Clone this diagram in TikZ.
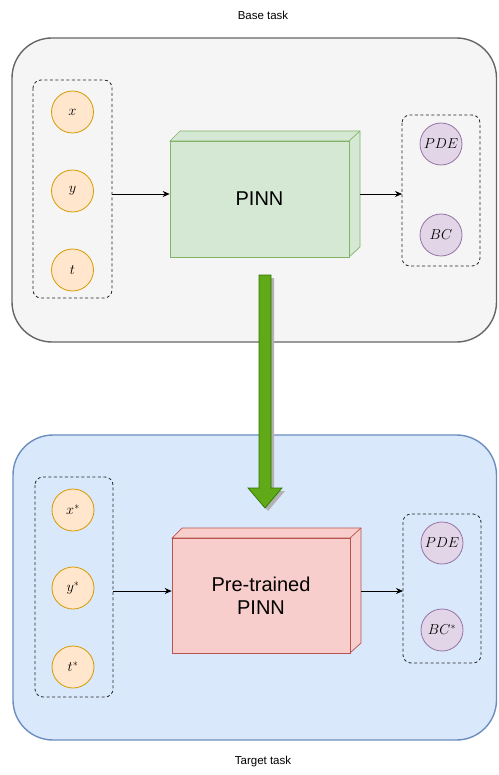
\documentclass[tikz,border=0pt]{standalone}
\usepackage{fontspec}
\setmainfont{Liberation Sans}
\usetikzlibrary{arrows.meta}
\begin{document}
\begin{tikzpicture}[x=1pt,y=-1pt,
  outerbox/.style={rounded corners=40pt,line width=1.4pt},
  dashbox/.style={draw=black!85,dash pattern=on 3pt off 2.5pt,rounded corners=8pt,line width=0.8pt},
  invar/.style={circle,draw=ofline,fill=offill,line width=0.8pt,minimum size=42pt,inner sep=0pt,font=\fontsize{14.5}{16}\selectfont},
  outvar/.style={circle,draw=pline,fill=pfill,line width=0.8pt,minimum size=42pt,inner sep=0pt,font=\fontsize{14.5}{16}\selectfont},
  conn/.style={-{Stealth[length=7pt,width=6pt]},line width=0.7pt},
  caption/.style={font=\fontsize{11.5}{13}\selectfont},
  bigtext/.style={font=\fontsize{20}{23}\selectfont,align=center}
]
\definecolor{gfill}{HTML}{D5E8D4}\definecolor{gline}{HTML}{82B366}
\definecolor{rfill}{HTML}{F8CECC}\definecolor{rline}{HTML}{B85450}
\definecolor{bfill}{HTML}{DAE8FC}\definecolor{bline}{HTML}{6C8EBF}
\definecolor{grfill}{HTML}{F5F5F5}\definecolor{grline}{HTML}{666666}
\definecolor{afill}{HTML}{60A917}\definecolor{aline}{HTML}{2D7600}
\definecolor{offill}{HTML}{FFE6CC}\definecolor{ofline}{HTML}{D79B00}
\definecolor{pfill}{HTML}{E1D5E7}\definecolor{pline}{HTML}{9673A6}
\useasboundingbox (0,0) rectangle (498,775);

% captions
\node[caption] (basecap) at (263,15) {Base task};
\node[caption] (targcap) at (263,762) {Target task};

% outer boxes
\draw[outerbox,draw=grline,fill=grfill] (12,38) rectangle (496.5,342);
\draw[outerbox,draw=bline,fill=bfill] (13,435) rectangle (496.5,740);

% ---- base task ----
\draw[dashbox] (33,80) rectangle (112,298);
\coordinate (inA) at (112,194);
\node[invar] (x) at (72.5,112) {$x$};
\node[invar] (y) at (72.5,191) {$y$};
\node[invar] (t) at (72.5,270) {$t$};

\draw[dashbox] (402,115) rectangle (480,266);
\coordinate (outA) at (402,194);
\node[outvar] (pde) at (441,144) {$PDE$};
\node[outvar] (bc) at (441,235) {$BC$};

% PINN cuboid
\draw[gline,fill=gfill,line width=0.7pt] (170,141) -- (180,131) -- (360,131) -- (360,247) -- (349,257) -- (349,141) -- cycle;
\draw[gline,line width=0.7pt] (349,141) -- (360,131);
\node[draw=gline,fill=gfill,line width=0.7pt,minimum width=179pt,minimum height=116pt,inner sep=0pt,bigtext] (pinn) at (259.5,199) {PINN};
\coordinate (pinnR) at (360,194);

\draw[conn] (inA) -- (pinn.west |- inA);
\draw[conn] (pinnR) -- (outA);

% ---- transfer arrow ----
\begin{scope}[shift={(3,3)}]
\fill[black!30] (259,275) -- (271,275) -- (271,488) -- (282,488) -- (265,508) -- (248,488) -- (259,488) -- cycle;
\end{scope}
\draw[aline,fill=afill,line width=0.7pt] (259,275) -- (271,275) -- (271,488) -- (282,488) -- (265,508) -- (248,488) -- (259,488) -- cycle;

% ---- target task ----
\draw[dashbox] (35,477) rectangle (113,697);
\coordinate (inB) at (113,591);
\node[invar] (xs) at (73,510) {$x^*$};
\node[invar] (ys) at (73,588) {$y^*$};
\node[invar] (ts) at (73,667) {$t^*$};

\draw[dashbox] (403,514) rectangle (481,663);
\coordinate (outB) at (403,591);
\node[outvar] (pdes) at (442,543) {$PDE$};
\node[outvar] (bcs) at (442,630) {$BC^*$};

% Pre-trained PINN cuboid
\draw[rline,fill=rfill,line width=0.7pt] (172,538) -- (182,528) -- (361,528) -- (361,643) -- (350,653) -- (350,538) -- cycle;
\draw[rline,line width=0.7pt] (350,538) -- (361,528);
\node[draw=rline,fill=rfill,line width=0.7pt,minimum width=178pt,minimum height=115pt,inner sep=0pt,bigtext] (ppinn) at (261,595.5) {Pre-trained\\PINN};
\coordinate (ppinnR) at (361,591);

\draw[conn] (inB) -- (ppinn.west |- inB);
\draw[conn] (ppinnR) -- (outB);
\end{tikzpicture}
\end{document}
